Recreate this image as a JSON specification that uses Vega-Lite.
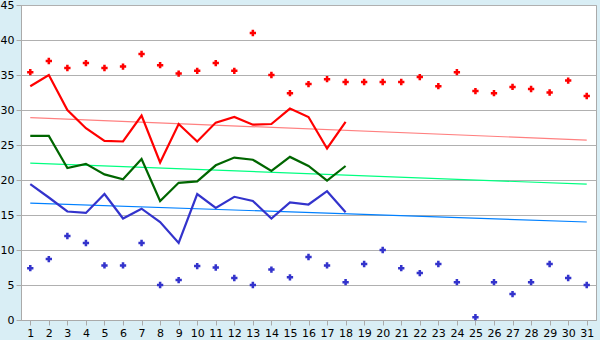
{
  "$schema": "https://vega.github.io/schema/vega-lite/v6.json",
  "autosize": {"type": "none"},
  "width": 575,
  "height": 315,
  "padding": {"left": 21, "top": 5, "right": 4, "bottom": 20},
  "background": "#d9eef5",
  "view": {"fill": "white", "stroke": "#aaaaaa", "strokeWidth": 1},
  "config": {
    "font": "DejaVu Sans",
    "axis": {"labelFont": "DejaVu Sans", "labelFontSize": 11, "labelColor": "#000000", "domainColor": "#aaaaaa", "tickColor": "#aaaaaa", "gridColor": "#b0b0b0", "gridOpacity": 1}
  },
  "datasets": {
    "obs": [
      {"day": 1, "series": "max", "value": 33.4}, {"day": 2, "series": "max", "value": 35.0}, {"day": 3, "series": "max", "value": 30.0}, {"day": 4, "series": "max", "value": 27.4}, {"day": 5, "series": "max", "value": 25.6}, {"day": 6, "series": "max", "value": 25.5}, {"day": 7, "series": "max", "value": 29.2}, {"day": 8, "series": "max", "value": 22.5}, {"day": 9, "series": "max", "value": 28.0}, {"day": 10, "series": "max", "value": 25.5}, {"day": 11, "series": "max", "value": 28.2}, {"day": 12, "series": "max", "value": 29.0}, {"day": 13, "series": "max", "value": 27.9}, {"day": 14, "series": "max", "value": 28.0}, {"day": 15, "series": "max", "value": 30.2}, {"day": 16, "series": "max", "value": 29.0}, {"day": 17, "series": "max", "value": 24.5}, {"day": 18, "series": "max", "value": 28.3},
      {"day": 1, "series": "mean", "value": 26.3}, {"day": 2, "series": "mean", "value": 26.3}, {"day": 3, "series": "mean", "value": 21.7}, {"day": 4, "series": "mean", "value": 22.3}, {"day": 5, "series": "mean", "value": 20.8}, {"day": 6, "series": "mean", "value": 20.1}, {"day": 7, "series": "mean", "value": 23.0}, {"day": 8, "series": "mean", "value": 17.0}, {"day": 9, "series": "mean", "value": 19.6}, {"day": 10, "series": "mean", "value": 19.8}, {"day": 11, "series": "mean", "value": 22.1}, {"day": 12, "series": "mean", "value": 23.2}, {"day": 13, "series": "mean", "value": 22.9}, {"day": 14, "series": "mean", "value": 21.3}, {"day": 15, "series": "mean", "value": 23.3}, {"day": 16, "series": "mean", "value": 22.0}, {"day": 17, "series": "mean", "value": 19.9}, {"day": 18, "series": "mean", "value": 22.0},
      {"day": 1, "series": "min", "value": 19.4}, {"day": 2, "series": "min", "value": 17.5}, {"day": 3, "series": "min", "value": 15.5}, {"day": 4, "series": "min", "value": 15.3}, {"day": 5, "series": "min", "value": 18.0}, {"day": 6, "series": "min", "value": 14.5}, {"day": 7, "series": "min", "value": 15.9}, {"day": 8, "series": "min", "value": 14.0}, {"day": 9, "series": "min", "value": 11.0}, {"day": 10, "series": "min", "value": 18.0}, {"day": 11, "series": "min", "value": 16.0}, {"day": 12, "series": "min", "value": 17.6}, {"day": 13, "series": "min", "value": 17.0}, {"day": 14, "series": "min", "value": 14.5}, {"day": 15, "series": "min", "value": 16.8}, {"day": 16, "series": "min", "value": 16.5}, {"day": 17, "series": "min", "value": 18.4}, {"day": 18, "series": "min", "value": 15.4}
    ],
    "pts": [
      {"day": 1, "series": "max", "value": 35.4}, {"day": 2, "series": "max", "value": 37.0}, {"day": 3, "series": "max", "value": 36.0}, {"day": 4, "series": "max", "value": 36.7}, {"day": 5, "series": "max", "value": 36.0}, {"day": 6, "series": "max", "value": 36.2}, {"day": 7, "series": "max", "value": 38.0}, {"day": 8, "series": "max", "value": 36.4}, {"day": 9, "series": "max", "value": 35.2}, {"day": 10, "series": "max", "value": 35.6}, {"day": 11, "series": "max", "value": 36.7}, {"day": 12, "series": "max", "value": 35.6}, {"day": 13, "series": "max", "value": 41.0}, {"day": 14, "series": "max", "value": 35.0}, {"day": 15, "series": "max", "value": 32.4}, {"day": 16, "series": "max", "value": 33.7}, {"day": 17, "series": "max", "value": 34.4}, {"day": 18, "series": "max", "value": 34.0}, {"day": 19, "series": "max", "value": 34.0}, {"day": 20, "series": "max", "value": 34.0}, {"day": 21, "series": "max", "value": 34.0}, {"day": 22, "series": "max", "value": 34.7}, {"day": 23, "series": "max", "value": 33.4}, {"day": 24, "series": "max", "value": 35.4}, {"day": 25, "series": "max", "value": 32.7}, {"day": 26, "series": "max", "value": 32.4}, {"day": 27, "series": "max", "value": 33.3}, {"day": 28, "series": "max", "value": 33.0}, {"day": 29, "series": "max", "value": 32.5}, {"day": 30, "series": "max", "value": 34.2}, {"day": 31, "series": "max", "value": 32.0},
      {"day": 1, "series": "min", "value": 7.4}, {"day": 2, "series": "min", "value": 8.7}, {"day": 3, "series": "min", "value": 12.0}, {"day": 4, "series": "min", "value": 11.0}, {"day": 5, "series": "min", "value": 7.8}, {"day": 6, "series": "min", "value": 7.8}, {"day": 7, "series": "min", "value": 11.0}, {"day": 8, "series": "min", "value": 5.0}, {"day": 9, "series": "min", "value": 5.7}, {"day": 10, "series": "min", "value": 7.7}, {"day": 11, "series": "min", "value": 7.5}, {"day": 12, "series": "min", "value": 6.0}, {"day": 13, "series": "min", "value": 5.0}, {"day": 14, "series": "min", "value": 7.2}, {"day": 15, "series": "min", "value": 6.1}, {"day": 16, "series": "min", "value": 9.0}, {"day": 17, "series": "min", "value": 7.8}, {"day": 18, "series": "min", "value": 5.4}, {"day": 19, "series": "min", "value": 8.0}, {"day": 20, "series": "min", "value": 10.0}, {"day": 21, "series": "min", "value": 7.4}, {"day": 22, "series": "min", "value": 6.7}, {"day": 23, "series": "min", "value": 8.0}, {"day": 24, "series": "min", "value": 5.4}, {"day": 25, "series": "min", "value": 0.4}, {"day": 26, "series": "min", "value": 5.4}, {"day": 27, "series": "min", "value": 3.7}, {"day": 28, "series": "min", "value": 5.4}, {"day": 29, "series": "min", "value": 8.0}, {"day": 30, "series": "min", "value": 6.0}, {"day": 31, "series": "min", "value": 5.0}
    ],
    "trend": [
      {"day": 1, "series": "max trend", "value": 28.9}, {"day": 31, "series": "max trend", "value": 25.7},
      {"day": 1, "series": "mean trend", "value": 22.4}, {"day": 31, "series": "mean trend", "value": 19.4},
      {"day": 1, "series": "min trend", "value": 16.7}, {"day": 31, "series": "min trend", "value": 14.0}
    ]
  },
  "encoding": {
    "x": {
      "field": "day", "type": "quantitative",
      "scale": {"domain": [0.5, 31.5], "nice": false, "zero": false},
      "axis": {"title": null, "values": [1,2,3,4,5,6,7,8,9,10,11,12,13,14,15,16,17,18,19,20,21,22,23,24,25,26,27,28,29,30,31], "grid": false, "tickSize": 5, "labelPadding": 2, "labelFlush": false, "labelOverlap": false, "domain": true}
    },
    "y": {
      "field": "value", "type": "quantitative",
      "scale": {"domain": [0, 45], "nice": false},
      "axis": {"title": null, "values": [0,5,10,15,20,25,30,35,40,45], "grid": true, "tickSize": 5, "labelPadding": 2, "labelFlush": false, "domain": true}
    },
    "color": {
      "field": "series", "type": "nominal", "legend": null,
      "scale": {"domain": ["max", "mean", "min", "max trend", "mean trend", "min trend"], "range": ["#ff0000", "#006600", "#3333cc", "#ff8080", "#00ff80", "#0080ff"]}
    }
  },
  "layer": [
    {"data": {"name": "trend"}, "mark": {"type": "line", "strokeWidth": 1.2}, "encoding": {"detail": {"field": "series"}}},
    {"data": {"name": "obs"}, "mark": {"type": "line", "strokeWidth": 2.2}, "encoding": {"detail": {"field": "series"}}},
    {"data": {"name": "pts"}, "mark": {"type": "point", "shape": "cross", "filled": true, "size": 40, "opacity": 1}}
  ]
}
